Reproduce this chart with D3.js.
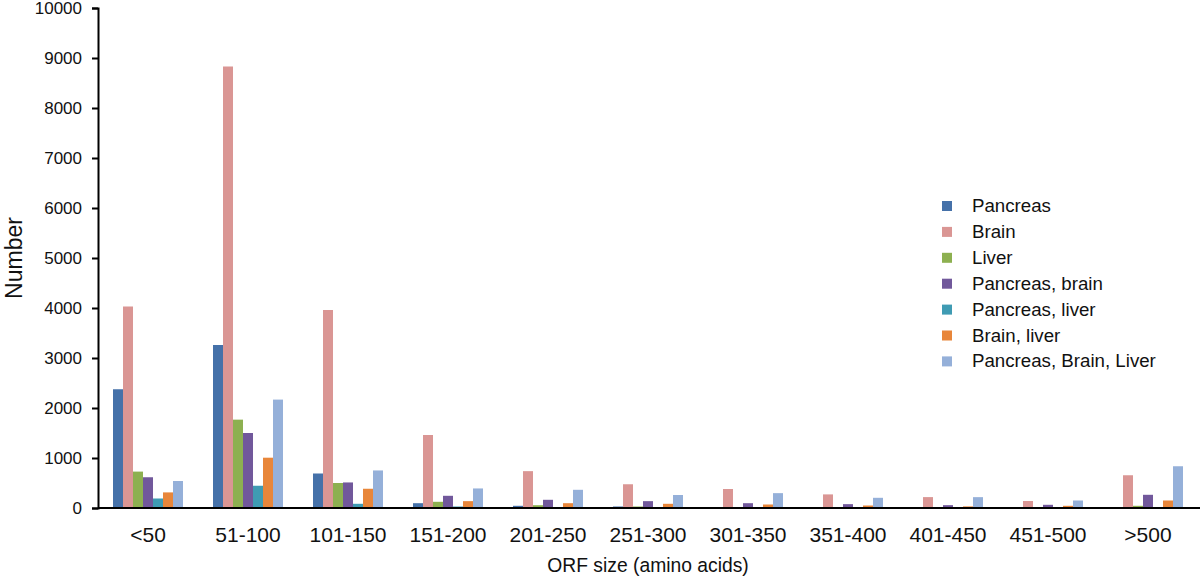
<!DOCTYPE html>
<html>
<head>
<meta charset="utf-8">
<script src="https://cdn.jsdelivr.net/npm/d3@7"></script>
<style>
  body { margin: 0; background: #fff; }
  text { font-family: "Liberation Sans", Arial, sans-serif; fill: #111; }
</style>
</head>
<body>
<svg id="chart"></svg>
<script>
// ORF size bins
var categories = ["<50", "51-100", "101-150", "151-200", "201-250", "251-300",
                  "301-350", "351-400", "401-450", "451-500", ">500"];

var seriesNames = ["Pancreas", "Brain", "Liver", "Pancreas, brain",
                   "Pancreas, liver", "Brain, liver", "Pancreas, Brain, Liver"];

var pancreas      = [2375, 3260, 690, 96, 44, 30, 8, 6, 5, 5, 8];
var brain         = [4030, 8830, 3960, 1460, 737, 475, 380, 272, 218, 140, 655];
var liver         = [728, 1767, 500, 124, 56, 30, 8, 6, 5, 5, 44];
var pancreasBrain = [615, 1500, 511, 244, 164, 137, 96, 77, 57, 64, 264];
var pancreasLiver = [190, 445, 84, 30, 10, 10, 6, 5, 4, 4, 6];
var brainLiver    = [312, 1006, 385, 137, 96, 84, 70, 50, 32, 44, 150];
var allThree      = [540, 2168, 751, 391, 364, 260, 297, 204, 217, 150, 835];

var colors = ["#4571a9", "#da9694", "#8db050", "#71589b", "#3f9bb3", "#e8863a", "#95b0d9"];

var seriesValues = [pancreas, brain, liver, pancreasBrain, pancreasLiver, brainLiver, allThree];
var yTicks = [0, 1000, 2000, 3000, 4000, 5000, 6000, 7000, 8000, 9000, 10000];

var width = 1200, height = 577;
var plotLeft = 98, plotRight = 1198, plotTop = 8, plotBottom = 508;

var svg = d3.select("#chart")
            .attr("width", width)
            .attr("height", height);

var x = d3.scaleBand()
          .domain(categories)
          .range([plotLeft, plotRight])
          .paddingInner(0.3)
          .paddingOuter(0.15);

var xs = d3.scaleBand()
           .domain(seriesNames)
           .range([0, x.bandwidth()]);

var y = d3.scaleLinear()
          .domain([0, 10000])
          .range([plotBottom, plotTop]);

// bars
var rows = [];
categories.forEach(function(c, i) {
  seriesNames.forEach(function(s, j) {
    rows.push({cat: c, series: s, value: seriesValues[j][i], color: colors[j]});
  });
});

svg.append("g")
   .selectAll("rect")
   .data(rows)
   .enter()
   .append("rect")
   .attr("x", function(d) { return x(d.cat) + xs(d.series); })
   .attr("y", function(d) { return y(d.value); })
   .attr("width", xs.bandwidth())
   .attr("height", function(d) { return plotBottom - y(d.value); })
   .style("fill", function(d) { return d.color; });

// y axis
var yAxis = svg.append("g")
   .attr("transform", "translate(" + plotLeft + ",0)")
   .call(d3.axisLeft(y).tickValues(yTicks).tickSize(6).tickPadding(10).tickFormat(d3.format("d")));
yAxis.select(".domain").attr("stroke", "#000").attr("stroke-width", 2);
yAxis.selectAll(".tick line").attr("stroke", "#000").attr("stroke-width", 2);
yAxis.selectAll(".tick text")
     .style("font-size", "17px")
     .style("font-family", "Liberation Sans, Arial, sans-serif")
     .attr("fill", "#111");

// x axis
var xAxis = svg.append("g")
   .attr("transform", "translate(0," + plotBottom + ")")
   .call(d3.axisBottom(x).tickSize(0).tickPadding(19));
xAxis.select(".domain").attr("d", "M" + plotLeft + ",0H" + width).attr("stroke", "#000").attr("stroke-width", 2);
xAxis.selectAll(".tick text")
     .style("font-size", "21px")
     .style("font-family", "Liberation Sans, Arial, sans-serif")
     .attr("fill", "#111");

// axis titles
svg.append("text")
   .attr("x", 648)
   .attr("y", 572)
   .attr("text-anchor", "middle")
   .style("font-size", "19.3px")
   .text("ORF size (amino acids)");

svg.append("text")
   .attr("transform", "translate(22,258) rotate(-90)")
   .attr("text-anchor", "middle")
   .style("font-size", "23px")
   .text("Number");

// legend
var legend = svg.append("g")
   .selectAll("g")
   .data(seriesNames)
   .enter()
   .append("g")
   .attr("transform", function(d, i) { return "translate(942," + (206 + i * 25.9) + ")"; });

legend.append("rect")
      .attr("x", 0)
      .attr("y", -5)
      .attr("width", 10)
      .attr("height", 10)
      .style("fill", function(d, i) { return colors[i]; });

legend.append("text")
      .attr("x", 30)
      .attr("y", 6)
      .style("font-size", "18.7px")
      .text(function(d) { return d; });
</script>
</body>
</html>
